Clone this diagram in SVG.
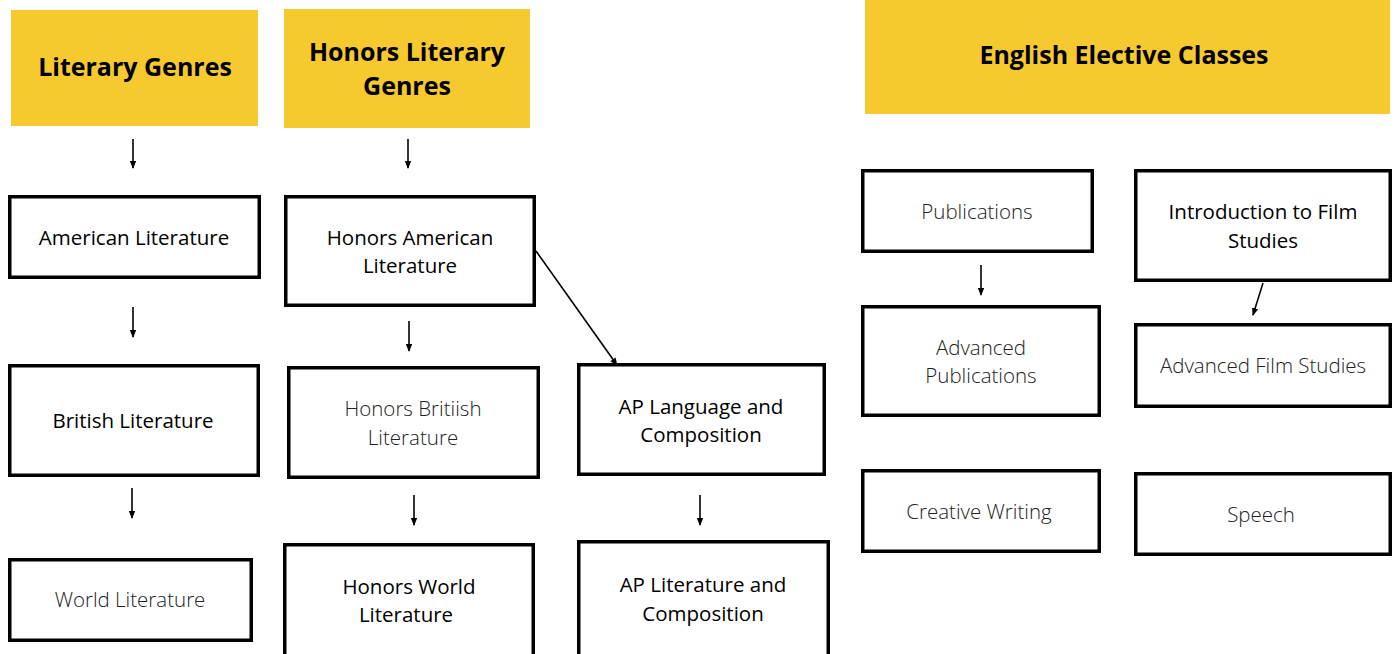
<svg xmlns="http://www.w3.org/2000/svg" width="1397" height="654" viewBox="0 0 1397 654">
<defs>
<style>
.hdr{fill:#F6CA2F}
.box{fill:#fff;stroke:#000;stroke-width:3.5}
.ht{font-family:"Open Sans","Liberation Sans",sans-serif;font-weight:700;font-size:25px;fill:#000;text-anchor:middle}
.t{font-family:"Open Sans","Liberation Sans",sans-serif;font-weight:400;font-size:20.5px;fill:#000;text-anchor:middle}
.l{font-family:"Open Sans","Liberation Sans",sans-serif;font-weight:300;font-size:20.5px;fill:#222;text-anchor:middle}
.c{stroke:#000;stroke-width:1.6;fill:none;marker-end:url(#ah)}
</style>
<marker id="ah" markerUnits="userSpaceOnUse" markerWidth="8" markerHeight="8" viewBox="0 0 8 8" refX="7" refY="4" orient="auto">
<path d="M0,0.8 L8,4 L0,7.2 Z" fill="#000"/>
</marker>
</defs>
<rect width="1397" height="654" fill="#fff"/>
<g id="hdr-literary"><rect class="hdr" x="11" y="10" width="247" height="116"/><text class="ht" x="135" y="76">Literary Genres</text></g>
<g id="hdr-honors"><rect class="hdr" x="284" y="9" width="246" height="119"/><text class="ht" x="407" y="61">Honors Literary</text><text class="ht" x="407" y="95">Genres</text></g>
<g id="hdr-elective"><rect class="hdr" x="865" y="0" width="525" height="114"/><text class="ht" x="1124" y="64">English Elective Classes</text></g>

<g id="american"><rect class="box" x="9.75" y="196.75" width="249.5" height="80.5"/><text class="t" x="134" y="245">American Literature</text></g>
<g id="british"><rect class="box" x="9.75" y="365.75" width="248.5" height="109.5"/><text class="t" x="133" y="428">British Literature</text></g>
<g id="world"><rect class="box" x="9.75" y="559.75" width="241.5" height="80.5"/><text class="l" x="130" y="607">World Literature</text></g>

<g id="honors-american"><rect class="box" x="285.75" y="196.75" width="248.5" height="108.5"/><text class="t" x="410" y="245">Honors American</text><text class="t" x="410" y="273">Literature</text></g>
<g id="honors-british"><rect class="box" x="288.75" y="367.75" width="249.5" height="109.5"/><text class="l" x="413" y="416">Honors Britiish</text><text class="l" x="413" y="445">Literature</text></g>
<g id="honors-world"><rect class="box" x="284.75" y="544.75" width="248.5" height="112"/><text class="t" x="409" y="594">Honors World</text><text class="t" x="406" y="622">Literature</text></g>

<g id="ap-language"><rect class="box" x="578.75" y="364.75" width="245.5" height="109.5"/><text class="t" x="701" y="414">AP Language and</text><text class="t" x="701" y="442">Composition</text></g>
<g id="ap-literature"><rect class="box" x="578.75" y="541.75" width="249.5" height="115"/><text class="t" x="703" y="592">AP Literature and</text><text class="t" x="703" y="621">Composition</text></g>

<g id="publications"><rect class="box" x="862.75" y="170.75" width="229.5" height="80.5"/><text class="l" x="977" y="219">Publications</text></g>
<g id="adv-publications"><rect class="box" x="862.75" y="306.75" width="236.5" height="108.5"/><text class="l" x="981" y="355">Advanced</text><text class="l" x="981" y="383">Publications</text></g>
<g id="intro-film"><rect class="box" x="1135.75" y="170.75" width="254.5" height="109.5"/><text class="t" x="1263" y="219">Introduction to Film</text><text class="t" x="1263" y="248">Studies</text></g>
<g id="adv-film"><rect class="box" x="1135.75" y="324.75" width="254.5" height="81.5"/><text class="l" x="1263" y="373">Advanced Film Studies</text></g>
<g id="creative"><rect class="box" x="862.75" y="470.75" width="236.5" height="80.5"/><text class="l" x="979" y="519">Creative Writing</text></g>
<g id="speech"><rect class="box" x="1135.75" y="473.75" width="254.5" height="80.5"/><text class="l" x="1261" y="522">Speech</text></g>

<g id="connectors">
<line class="c" x1="133" y1="139" x2="133" y2="168"/>
<line class="c" x1="133" y1="307" x2="133" y2="337"/>
<line class="c" x1="132" y1="488" x2="132" y2="518"/>
<line class="c" x1="408" y1="139" x2="408" y2="168"/>
<line class="c" x1="409" y1="321" x2="409" y2="351"/>
<line class="c" x1="414" y1="495" x2="414" y2="525"/>
<line class="c" x1="700" y1="495" x2="700" y2="525"/>
<line class="c" x1="981" y1="265" x2="981" y2="295"/>
<line class="c" x1="536" y1="251" x2="617" y2="365"/>
<line class="c" x1="1263" y1="283" x2="1253" y2="315"/>
</g>
</svg>
